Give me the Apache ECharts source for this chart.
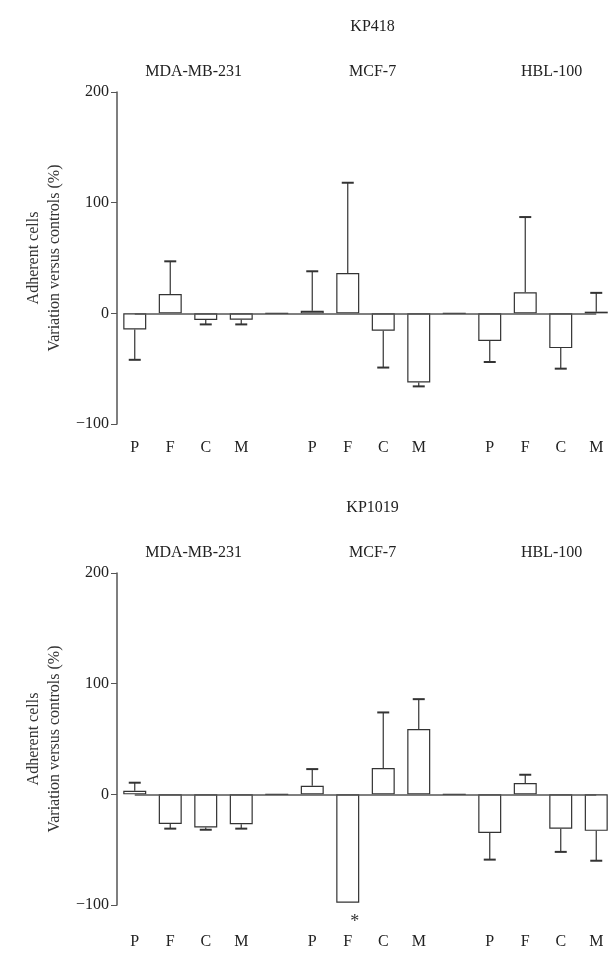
<!DOCTYPE html>
<html><head><meta charset="utf-8">
<script src="https://cdn.jsdelivr.net/npm/echarts@6/dist/echarts.min.js"></script>
<style>html,body{margin:0;background:#fff}#c{width:614px;height:953px}</style>
</head><body><div id="c"></div>
<script>
// slots: 4 bars, gap, 4 bars, gap, 4 bars
const categories = ['P1','F1','C1','M1','g1','P2','F2','C2','M2','g2','P3','F3','C3','M3'];
const tickLabels = ['P','F','C','M','','P','F','C','M','','P','F','C','M'];
const groups = ['MDA-MB-231', 'MCF-7', 'HBL-100'];

const kp418Mean = [-14.5, 17.5, -6, -5.7, 0, 2.4, 36.5, -15.7, -62.5, 0, -25, 19, -31.4, 1.5];
const kp418Err  = [-42, 47, -10, -10, null, 38, 118, -49, -66, null, -44, 87, -50, 18.5];
const kp1019Mean = [3.3, -26.7, -30, -27, 0, 7.8, -98, 23.7, 59, 0, -35, 10.2, -31, -33];
const kp1019Err  = [10.5, -31, -32, -31, null, 22.8, null, 74, 86, null, -59, 17.7, -52, -60];

const font = 'Liberation Serif, serif';
const tops = [92, 573];
const labelOffsets = [16, 29];
const H = 332;
const slot = 35.8;

const chart = echarts.init(document.getElementById('c'));
const grids = [], xAxes = [], yAxes = [], series = [], titles = [];
[['KP418', kp418Mean, kp418Err], ['KP1019', kp1019Mean, kp1019Err]].forEach(([name, mean, err], i) => {
  grids.push({ left: 117, width: 501, top: tops[i], height: H });
  titles.push({ text: name, left: 117 + slot * 7, top: tops[i] - 78, textAlign: 'center',
    textStyle: { fontFamily: font, fontWeight: 'normal', fontSize: 16, color: '#222' } });
  xAxes.push({ type: 'category', gridIndex: i, data: categories, axisLine: { show: false }, axisTick: { show: false },
    axisLabel: { formatter: (v, k) => tickLabels[k], color: '#222', fontFamily: font, fontSize: 16, margin: 0 },
    position: 'bottom', offset: labelOffsets[i] });
  yAxes.push({ type: 'value', gridIndex: i, min: -100, max: 200, interval: 100, splitLine: { show: false },
    axisLine: { show: true, lineStyle: { color: '#555', width: 1.5 } },
    axisTick: { show: true, length: 6, lineStyle: { color: '#555' } },
    axisLabel: { color: '#222', fontFamily: font, fontSize: 16, margin: 8, formatter: v => String(v).replace('-', '\u2212') },
    name: 'Adherent cells\nVariation versus controls (%)', nameLocation: 'middle', nameGap: 52, nameRotate: 90,
    nameTextStyle: { fontFamily: font, fontSize: 16, color: '#333', lineHeight: 21 } });
  series.push({ type: 'bar', xAxisIndex: i, yAxisIndex: i, data: mean, barWidth: 23,
    itemStyle: { color: '#fff', borderColor: '#333', borderWidth: 1.2 },
    markLine: { silent: true, symbol: 'none', label: { show: false }, lineStyle: { color: '#555', type: 'solid', width: 1.5 },
      data: [[{ xAxis: 0, yAxis: 0 }, { xAxis: 13, yAxis: 0 }]] } });
  series.push({ type: 'custom', xAxisIndex: i, yAxisIndex: i, data: mean.map((m, k) => [k, m, err[k]]),
    renderItem: (params, api) => {
      const e = api.value(2);
      if (e === null || e === undefined || isNaN(e)) return;
      const p0 = api.coord([api.value(0), api.value(1)]);
      const p1 = api.coord([api.value(0), e]);
      return { type: 'group', children: [
        { type: 'line', shape: { x1: p0[0], y1: p0[1], x2: p1[0], y2: p1[1] }, style: { stroke: '#333', lineWidth: 1.2 } },
        { type: 'line', shape: { x1: p1[0] - 6, y1: p1[1], x2: p1[0] + 6, y2: p1[1] }, style: { stroke: '#333', lineWidth: 2 } }
      ] };
    } });
  groups.forEach((g, j) => {
    titles.push({ text: g, left: 117 + slot * (2 + 5 * j), top: tops[i] - 33, textAlign: 'center',
      textStyle: { fontFamily: font, fontWeight: 'normal', fontSize: 16, color: '#222' } });
  });
});
titles.push({ text: '*', left: 117 + slot * 6.5, top: 908, textAlign: 'center',
  textStyle: { fontFamily: font, fontWeight: 'normal', fontSize: 18, color: '#333' } });
chart.setOption({ animation: false, title: titles, grid: grids, xAxis: xAxes, yAxis: yAxes, series });
</script></body></html>
